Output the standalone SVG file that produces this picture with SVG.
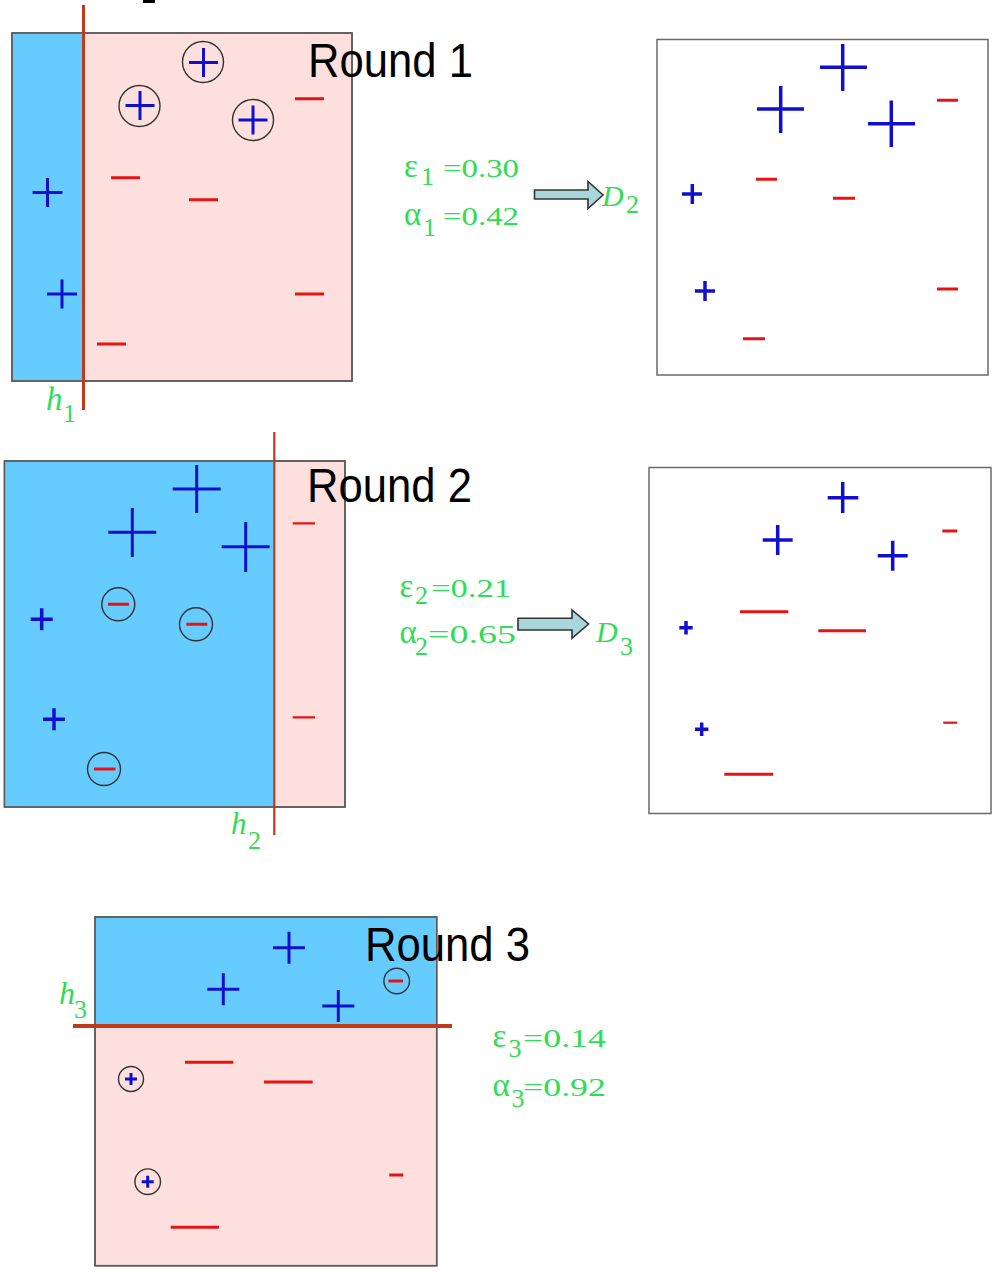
<svg xmlns="http://www.w3.org/2000/svg" width="993" height="1273" viewBox="0 0 993 1273">
<style>
.pink{fill:#fde0dd;stroke:#5a5a5a;stroke-width:1.5}
.blue{fill:#66ccff}
.frame{fill:none;stroke:#5a5a5a;stroke-width:1.5}
.wframe{fill:#ffffff;stroke:#6a6a6a;stroke-width:1.5}
.hl{stroke:#c0391b;fill:none}
.p{stroke:#1010cc;stroke-width:3;fill:none}
.pt{stroke:#1010cc;stroke-width:3.5;fill:none}
.m{stroke:#e51414;stroke-width:3;fill:none}
.mt{stroke:#e51414;stroke-width:2.2;fill:none}
.c{fill:none;stroke:#333;stroke-width:1.4}
.g{font-family:"Liberation Serif",serif;font-size:26px;fill:#2fdc55}
.gk{font-family:"Liberation Serif",serif;font-size:33px;fill:#2fdc55}
.hi{font-family:"Liberation Serif",serif;font-style:italic;fill:#2fdc55}
.rt{font-family:"Liberation Sans",Arial,sans-serif;font-size:49px;fill:#000}
.arr{fill:#a9d6da;stroke:#333;stroke-width:1.6;stroke-linejoin:miter}
</style>

<rect x="143" y="0" width="12" height="3" fill="#000"/>

<g id="round1-left">
  <rect class="pink" x="12" y="33" width="340" height="348"/>
  <rect class="blue" x="12.75" y="33.75" width="70.5" height="346.5"/>
  <rect class="frame" x="12" y="33" width="340" height="348"/>
  <line class="hl" x1="83.5" y1="5" x2="83.5" y2="410" stroke-width="3"/>
  <circle class="c" cx="203" cy="62" r="20.5"/>
  <circle class="c" cx="139.5" cy="106" r="20.5"/>
  <circle class="c" cx="253" cy="120" r="20.5"/>
  <path class="p" d="M189 62.5H218M203.5 48V77"/>
  <path class="p" d="M125.5 105.5H154.5M140 91V120"/>
  <path class="p" d="M238.5 120H267.5M253 105.5V134.5"/>
  <path class="p" d="M32.5 192.5H62.5M47.5 178V207"/>
  <path class="p" d="M47 294H77M62 279.5V308.5"/>
  <path class="m" d="M295 98.7H324M111 177.7H140M189 199.7H218M295 294H324M97 344H126"/>
  <text class="hi" x="46" y="410" font-size="33">h</text>
  <text class="g" x="63" y="422" font-size="24">1</text>
  <text class="rt" x="308" y="77" textLength="165" lengthAdjust="spacingAndGlyphs">Round 1</text>
</g>

<g id="round1-stats">
  <text class="gk" x="404" y="177">ε</text>
  <text class="g" x="421" y="185">1</text>
  <text class="g" x="443" y="177" textLength="76" lengthAdjust="spacingAndGlyphs">=0.30</text>
  <text class="gk" x="404" y="224.5">α</text>
  <text class="g" x="423" y="236">1</text>
  <text class="g" x="443" y="224.5" textLength="76" lengthAdjust="spacingAndGlyphs">=0.42</text>
</g>

<g id="D2-label">
  <text class="hi" x="602" y="206" font-size="30">D</text>
  <text class="g" x="626" y="213">2</text>
</g>

<g id="D2-panel">
  <rect class="wframe" x="657" y="39.5" width="331" height="335.5"/>
  <path class="pt" d="M820 67.3H867M842.7 44V91"/>
  <path class="pt" d="M757 109H804M780.7 86V133"/>
  <path class="pt" d="M868 123.7H915M891.3 100.5V147"/>
  <path class="pt" d="M682 194H702M692.3 184V204"/>
  <path class="pt" d="M695 291H715M705 281V301"/>
  <path class="m" d="M937 100.3H958M756 179.3H777M833 198.3H855M937 289H958M743 338.7H765"/>
</g>

<g id="round2-left">
  <rect class="pink" x="4.5" y="461" width="340.5" height="346"/>
  <rect class="blue" x="5.25" y="461.75" width="269" height="344.5"/>
  <rect class="frame" x="4.5" y="461" width="340.5" height="346"/>
  <line class="hl" x1="274.3" y1="432" x2="274.3" y2="835" stroke-width="2.2"/>
  <path class="p" d="M172.7 489H220.7M196.7 465V513"/>
  <path class="p" d="M108.3 532.3H156.3M132.3 508V557"/>
  <path class="p" d="M221.7 546.7H269.7M245.7 522V572"/>
  <path class="pt" d="M30.7 619.3H52.7M41.7 608.3V630.3"/>
  <path class="pt" d="M43 719.3H65M54 708.3V730.3"/>
  <circle class="c" cx="118.3" cy="604.3" r="16.5"/>
  <circle class="c" cx="196" cy="624.3" r="16.5"/>
  <circle class="c" cx="104" cy="769" r="16.5"/>
  <path class="m" d="M108 604.3H129M186.3 624.3H207.3M94 769H115.5"/>
  <path class="mt" d="M292.7 523.3H315M292.7 717.3H315"/>
  <text class="hi" x="231" y="834" font-size="31">h</text>
  <text class="g" x="248" y="849" font-size="24">2</text>
  <text class="rt" x="307" y="502" textLength="165" lengthAdjust="spacingAndGlyphs">Round 2</text>
</g>

<g id="round2-stats">
  <text class="gk" x="399.5" y="596.5">ε</text>
  <text class="g" x="415" y="604">2</text>
  <text class="g" x="431" y="596.5" textLength="80" lengthAdjust="spacingAndGlyphs">=0.21</text>
  <text class="gk" x="399.5" y="643">α</text>
  <text class="g" x="415" y="655">2</text>
  <text class="g" x="428" y="643" textLength="88" lengthAdjust="spacingAndGlyphs">=0.65</text>
</g>

<g id="D3-label">
  <text class="hi" x="596" y="641.5" font-size="30">D</text>
  <text class="g" x="620" y="655">3</text>
</g>

<g id="D3-panel">
  <rect class="wframe" x="649" y="467.5" width="342" height="346"/>
  <path class="pt" d="M827.7 497.7H858.3M842.7 482V513"/>
  <path class="pt" d="M762.7 540H792.7M777.7 525V555"/>
  <path class="pt" d="M877.7 555.7H907.7M892.7 540.7V570.7"/>
  <path class="pt" d="M679.3 627.7H692.7M686 621V634.4"/>
  <path class="pt" d="M695 729.3H708.4M701.7 722.6V736"/>
  <path class="m" stroke-width="3.5" d="M942.3 531H957.3M740 611.7H788.3M818.3 630.7H866M724.3 774.3H773.3"/>
  <path class="mt" d="M943.3 722.7H957.3"/>
</g>

<g id="round3">
  <rect class="pink" x="95" y="917" width="341.7" height="348.7"/>
  <rect class="blue" x="95.75" y="917.75" width="340.2" height="108.25"/>
  <rect class="frame" x="95" y="917" width="341.7" height="348.7"/>
  <line class="hl" x1="73" y1="1026" x2="452" y2="1026" stroke-width="4"/>
  <path class="p" d="M273 947.7H305M289 931.7V963.7"/>
  <path class="p" d="M207.3 989.3H239.3M223.3 973.3V1005.3"/>
  <path class="p" d="M322.3 1006H354.3M338.3 990V1022"/>
  <circle class="c" cx="396.7" cy="981" r="12.8"/>
  <path class="m" d="M388.5 981H403"/>
  <circle class="c" cx="131" cy="1079" r="12.5"/>
  <path class="p" d="M125 1079H137M131 1073V1085"/>
  <circle class="c" cx="147.7" cy="1181.7" r="12.8"/>
  <path class="p" d="M141.7 1181.7H153.7M147.7 1175.7V1187.7"/>
  <path class="m" d="M185 1062.3H233.3M264 1082H312.7M389.3 1175H403.3M170.7 1227.3H219"/>
  <text class="hi" x="59" y="1003.5" font-size="32">h</text>
  <text class="g" x="74" y="1018" font-size="24">3</text>
  <text class="rt" x="365" y="961" textLength="165" lengthAdjust="spacingAndGlyphs">Round 3</text>
</g>

<g id="round3-stats">
  <text class="gk" x="492.5" y="1046.7">ε</text>
  <text class="g" x="508.5" y="1057">3</text>
  <text class="g" x="523" y="1046.7" textLength="83" lengthAdjust="spacingAndGlyphs">=0.14</text>
  <text class="gk" x="492.5" y="1096">α</text>
  <text class="g" x="511.5" y="1107">3</text>
  <text class="g" x="523" y="1096" textLength="83" lengthAdjust="spacingAndGlyphs">=0.92</text>
</g>

<g id="connectors">
  <polygon class="arr" points="534.5,190 588,190 588,181.5 603,195 588,208.5 588,199 534.5,199"/>
  <polygon class="arr" points="518,618.3 572,618.3 572,610 588.5,624 572,638.3 572,630 518,630"/>
</g>
</svg>
